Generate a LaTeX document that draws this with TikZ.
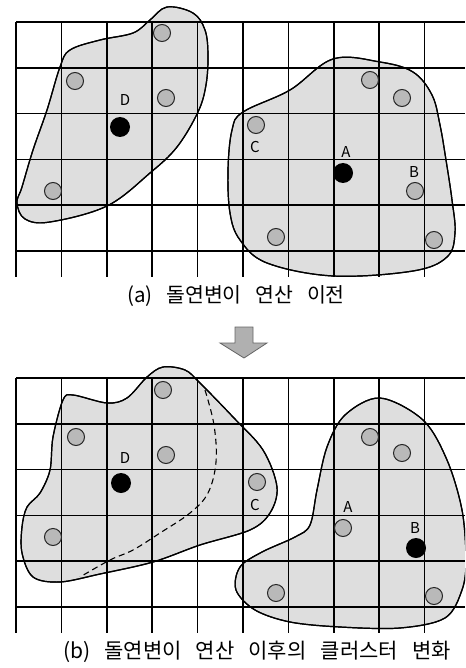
\documentclass[tikz,border=0pt]{standalone}
\usepackage{fontspec}
\newfontfamily\krfont{Noto Sans CJK KR}[WordSpace=3]
\usetikzlibrary{positioning}

\begin{document}
\begin{tikzpicture}[x=1pt, y=-1pt,
  gridln/.style={line width=1.5pt, black},
  cluster/.style={fill=gray!26, draw=black, line width=1.2pt},
  pt/.style={circle, draw=black!85, line width=1pt, fill=gray!55, minimum size=17pt, inner sep=0pt},
  cen/.style={circle, fill=black, minimum size=20pt, inner sep=0pt},
  lab/.style={font=\krfont\fontsize{15}{15}\selectfont, inner sep=0pt},
  captxt/.style={font=\krfont\fontsize{20.5}{24}\selectfont, inner sep=0pt},
  split/.style={line width=1.1pt, dash pattern=on 6pt off 4pt},
  bigarr/.style={fill=gray!62, draw=black!60, line width=0.8pt}
]
\useasboundingbox (0,0) rectangle (465,668);
\begin{scope}
\clip (0,0) rectangle (465,668);
% (a) clusters before
\draw[cluster] plot[smooth cycle, tension=0.6] coordinates {(167,7) (193,13) (205,30) (208,55) (206,85) (198,112) (177,147) (150,173) (107,206) (50,222) (25,219) (17,203) (22,187) (33,150) (47,110) (60,67) (70,50) (100,40) (133,33) (150,20)};
\draw[cluster] plot[smooth cycle, tension=0.6] coordinates {(333,59) (380,62) (413,72) (432,95) (440,125) (446,160) (452,200) (455,233) (447,257) (413,271) (333,276) (267,263) (240,240) (230,213) (228,170) (232,130) (243,112) (290,90)};
% (b) clusters after
\draw[cluster] plot[smooth cycle, tension=0.55] coordinates {(147,377) (163,367) (185,370) (200,383) (233,417) (263,450) (277,487) (270,513) (250,530) (200,545) (153,562) (100,574) (60,582) (33,577) (22,553) (22,527) (27,507) (40,493) (50,470) (53,437) (63,400) (73,395) (107,403) (127,398)};
\draw[cluster] plot[smooth cycle, tension=0.55] coordinates {(380,398) (423,420) (447,460) (462,510) (466,560) (462,590) (445,618) (400,628) (340,627) (290,622) (255,610) (236,590) (240,567) (262,552) (295,537) (310,525) (317,490) (327,447) (345,415)};
\draw[split] plot[smooth, tension=0.6] coordinates {(205,390) (214,425) (216,462) (208,493) (190,513) (160,533) (133,550) (110,560) (80,577)};
% grids
\foreach \oy in {0,356} {
  \foreach \i in {0,...,9}
    \draw[gridln] ({16+45.4*\i},{22+\oy}) -- ({16+45.4*\i},{277+\oy});
  \foreach \j in {0,...,5}
    \draw[gridln] (16,{22+45.8*\j+\oy}) -- (465,{22+45.8*\j+\oy});
}
% redraw outlines over the grid
\draw[cluster, fill=none] plot[smooth cycle, tension=0.6] coordinates {(167,7) (193,13) (205,30) (208,55) (206,85) (198,112) (177,147) (150,173) (107,206) (50,222) (25,219) (17,203) (22,187) (33,150) (47,110) (60,67) (70,50) (100,40) (133,33) (150,20)};
\draw[cluster, fill=none] plot[smooth cycle, tension=0.6] coordinates {(333,59) (380,62) (413,72) (432,95) (440,125) (446,160) (452,200) (455,233) (447,257) (413,271) (333,276) (267,263) (240,240) (230,213) (228,170) (232,130) (243,112) (290,90)};
\draw[cluster, fill=none] plot[smooth cycle, tension=0.55] coordinates {(147,377) (163,367) (185,370) (200,383) (233,417) (263,450) (277,487) (270,513) (250,530) (200,545) (153,562) (100,574) (60,582) (33,577) (22,553) (22,527) (27,507) (40,493) (50,470) (53,437) (63,400) (73,395) (107,403) (127,398)};
\draw[cluster, fill=none] plot[smooth cycle, tension=0.55] coordinates {(380,398) (423,420) (447,460) (462,510) (466,560) (462,590) (445,618) (400,628) (340,627) (290,622) (255,610) (236,590) (240,567) (262,552) (295,537) (310,525) (317,490) (327,447) (345,415)};
\end{scope}

% (a) points
\node[pt] (a1) at (162,33) {};
\node[pt] (a2) at (75,81) {};
\node[pt] (a3) at (166,98) {};
\node[cen] (aD) at (120,127) {};
\node[pt] (a4) at (53,191) {};
\node[pt] (aC) at (256,125) {};
\node[pt] (a5) at (370,80) {};
\node[pt] (a6) at (402,98) {};
\node[cen] (aA) at (343,173) {};
\node[pt] (aB) at (415,191) {};
\node[pt] (a7) at (276,237) {};
\node[pt] (a8) at (434,240) {};
\node[lab] (laD) at (125,100) {D};
\node[lab] (laC) at (255,147) {C};
\node[lab] (laA) at (346,152) {A};
\node[lab] (laB) at (414,172) {B};

% (b) points
\node[pt] (b1) at (163,390) {};
\node[pt] (b2) at (76,437) {};
\node[pt] (b3) at (166,455) {};
\node[cen] (bD) at (121,483) {};
\node[pt] (b4) at (53,537) {};
\node[pt] (bC) at (257,482) {};
\node[pt] (b5) at (370,437) {};
\node[pt] (b6) at (402,453) {};
\node[pt] (bA) at (343,528) {};
\node[cen] (bB) at (416,548) {};
\node[pt] (b7) at (276,593) {};
\node[pt] (b8) at (434,596) {};
\node[lab] (lbD) at (125,458) {D};
\node[lab] (lbC) at (255,505) {C};
\node[lab] (lbA) at (348,507) {A};
\node[lab] (lbB) at (415,528) {B};

\node[captxt] (capa) at (236,296) {(a) 돌연변이 연산 이전};
\draw[bigarr] (235,327) -- (253,327) -- (253,343) -- (267,343) -- (244,358) -- (220,343) -- (235,343) -- cycle;
\node[captxt, font=\krfont\fontsize{21}{25}\selectfont] (capb) at (257,652) {(b) 돌연변이 연산 이후의 클러스터 변화};
\end{tikzpicture}
\end{document}
